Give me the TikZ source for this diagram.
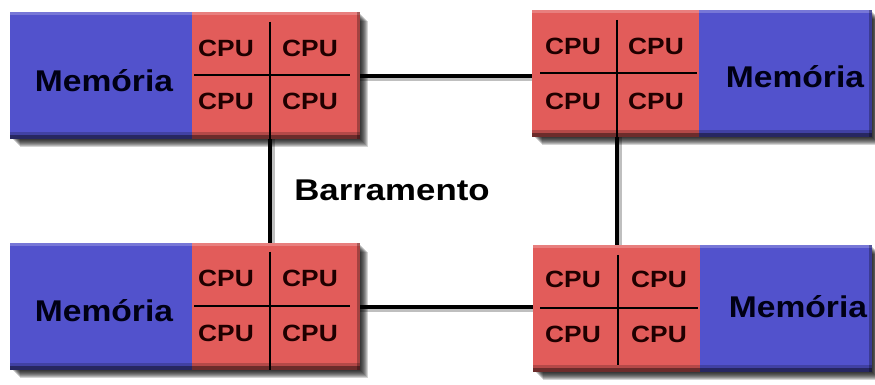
\documentclass[tikz,border=0pt]{standalone}
\usepackage{fontspec}
\setmainfont{Liberation Sans}
\newfontfamily\labelfont[FakeStretch=1.12]{Liberation Sans}
\newfontfamily\busfont[FakeStretch=1.16]{Liberation Sans}
\usetikzlibrary{calc,backgrounds}

\definecolor{membl}{RGB}{82,82,204}
\definecolor{cpurd}{RGB}{226,92,90}

\tikzset{
  part/.style={draw=none, inner sep=0pt, anchor=north west, minimum height=127pt},
  mempart/.style={part, fill=membl},
  cpupart/.style={part, fill=cpurd, minimum width=168pt},
  memtxt/.style={font=\labelfont\bfseries\fontsize{30}{30}\selectfont, inner sep=0pt, anchor=base, text=black!92!blue},
  cputxt/.style={font=\labelfont\bfseries\fontsize{23.5}{24}\selectfont, inner sep=0pt, anchor=base, text=black!88!red},
  bustxt/.style={font=\busfont\bfseries\fontsize{30}{30}\selectfont, inner sep=0pt, anchor=base, text=black},
  gridline/.style={line width=2.6pt, black},
  bus/.style={line width=4.2pt, black},
  busshade/.style={line width=4.5pt, black, opacity=0.25},
}

% drop shadow and bevelled edges of one module spanning nodes #1 (left) and #2 (right)
\newcommand{\moduleshade}[2]{%
  \begin{scope}[on background layer]
    \foreach \k in {1,...,8}
      \fill[black, opacity=0.17] ($(#1.north west)+(\k+2,-\k-1)$) rectangle ($(#2.south east)+(\k,-\k)$);
  \end{scope}
  \fill[white, opacity=0.22] (#1.north west) rectangle ($(#2.north east)+(0,-3)$);
  \fill[black, opacity=0.4] (#1.south west) rectangle ($(#2.south east)+(0,4)$);
  \fill[black, opacity=0.2] (#1.south west) rectangle ($(#2.south east)+(0,7)$);
  \fill[black, opacity=0.28] ($(#2.south east)+(-3,0)$) rectangle (#2.north east);
}

\begin{document}
\begin{tikzpicture}[x=1pt, y=1pt]
  \begin{scope}[on background layer]
    \fill[white] (0,0) rectangle (875,385);
  \end{scope}
  \useasboundingbox (0,0) rectangle (875,385);

  % four memory/CPU modules
  \node[mempart, minimum width=182pt] (m1) at (10,373) {};
  \node[cpupart] (c1) at (192,373) {};
  \node[cpupart, minimum width=167pt] (c2) at (532,375) {};
  \node[mempart, minimum width=173pt] (m2) at (699,375) {};
  \node[mempart, minimum width=182pt] (m3) at (10,142) {};
  \node[cpupart] (c3) at (192,142) {};
  \node[cpupart, minimum width=167pt] (c4) at (533,140) {};
  \node[mempart, minimum width=172pt] (m4) at (700,140) {};

  \moduleshade{m1}{c1}
  \moduleshade{c2}{m2}
  \moduleshade{m3}{c3}
  \moduleshade{c4}{m4}

  % bus connectors with their soft shade
  \coordinate (x1) at (270,310);
  \coordinate (x2) at (617,312);
  \coordinate (x3) at (270,79);
  \coordinate (x4) at (618,77);
  \begin{scope}[on background layer]
    \draw[busshade] ($(c1.east)+(0,-3)$) -- ($(c1.east -| c2.west)+(0,-3)$);
    \draw[busshade] ($(c3.east)+(0,-3)$) -- ($(c3.east -| c4.west)+(0,-3)$);
    \draw[busshade] ($(x1 |- c1.south)+(3,0)$) -- ($(x1 |- c3.north)+(3,0)$);
    \draw[busshade] ($(x2 |- c2.south)+(3,0)$) -- ($(x2 |- c4.north)+(3,0)$);
  \end{scope}
  \draw[bus] (c1.east) -- (c1.east -| c2.west);
  \draw[bus] (c3.east) -- (c3.east -| c4.west);
  \draw[bus] (x1 |- c1.south) -- (x1 |- c3.north);
  \draw[bus] (x2 |- c2.south) -- (x2 |- c4.north);

  % CPU crosses
  \draw[gridline] (270,363) -- (x1 |- c1.south);
  \draw[gridline] (194,310) -- (350,310);
  \draw[gridline] (617,365) -- (x2 |- c2.south);
  \draw[gridline] (540,312) -- (697,312);
  \draw[gridline] (270,133) -- (x3 |- c3.south);
  \draw[gridline] (194,79) -- (350,79);
  \draw[gridline] (618,130) -- (618,20);
  \draw[gridline] (540,77) -- (698,77);

  % labels
  \node[memtxt] (t1) at (104,293) {Memória};
  \node[memtxt] (t2) at (795,297) {Memória};
  \node[memtxt] (t3) at (104,63) {Memória};
  \node[memtxt] (t4) at (798,67) {Memória};

  \node[cputxt] (p11) at (226,328) {CPU};
  \node[cputxt] (p12) at (310,328) {CPU};
  \node[cputxt] (p13) at (226,275) {CPU};
  \node[cputxt] (p14) at (310,275) {CPU};

  \node[cputxt] (p21) at (573,330) {CPU};
  \node[cputxt] (p22) at (656,330) {CPU};
  \node[cputxt] (p23) at (573,275) {CPU};
  \node[cputxt] (p24) at (656,275) {CPU};

  \node[cputxt] (p31) at (226,98) {CPU};
  \node[cputxt] (p32) at (310,98) {CPU};
  \node[cputxt] (p33) at (226,43) {CPU};
  \node[cputxt] (p34) at (310,43) {CPU};

  \node[cputxt] (p41) at (573,97) {CPU};
  \node[cputxt] (p42) at (659,97) {CPU};
  \node[cputxt] (p43) at (573,42) {CPU};
  \node[cputxt] (p44) at (659,42) {CPU};

  \node[bustxt] (bus) at (392,184) {Barramento};
\end{tikzpicture}
\end{document}
